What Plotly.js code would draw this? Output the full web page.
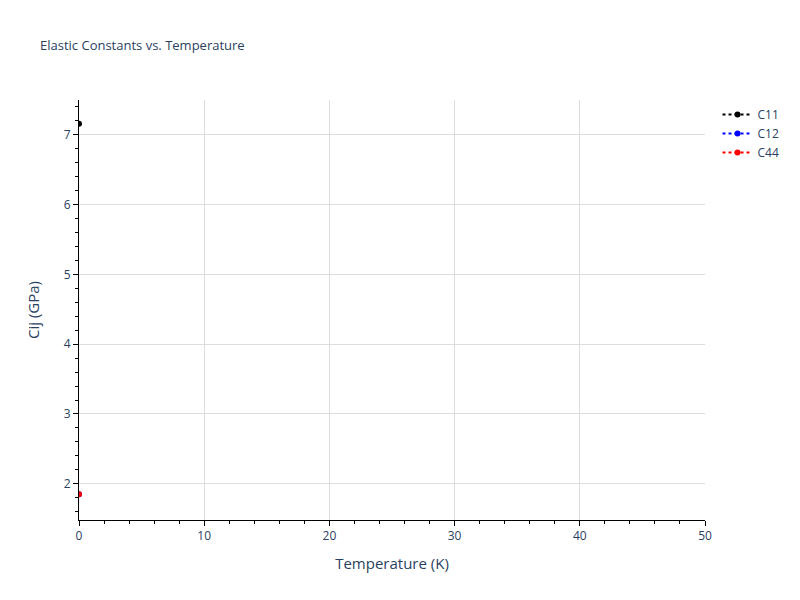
<!DOCTYPE html>
<html>
<head>
<meta charset="utf-8">
<script src="https://cdn.plot.ly/plotly-3.0.1.min.js"></script>
</head>
<body style="margin:0">
<div id="myDiv" style="width:800px;height:600px"></div>
<script>
let temperature = [0];
let c11 = [7.16];
let c12 = [1.85];
let c44 = [1.85];

function makeTrace(name, values, color){
    return {
        x: temperature,
        y: values,
        name: name,
        type: 'scatter',
        mode: 'lines+markers',
        line: {dash: 'dot', color: color},
        marker: {color: color, size: 6}
    };
}

var data = [
    makeTrace('C11', c11, 'black'),
    makeTrace('C12', c12, 'blue'),
    makeTrace('C44', c44, 'red')
];

var layout = {
    width: 800,
    height: 600,
    font: {color: '#2a3f5f'},
    title: {text: 'Elastic Constants vs. Temperature', font: {size: 13}, x: 0.05},
    paper_bgcolor: 'white',
    plot_bgcolor: 'white',
    margin: {l: 79, r: 95, t: 100, b: 80},
    xaxis: {
        title: {text: 'Temperature (K)', font: {size: 15}, standoff: 15},
        range: [0, 50],
        dtick: 10,
        showline: true,
        linecolor: 'black',
        ticks: 'outside',
        tickcolor: 'black',
        gridcolor: '#dddddd',
        gridwidth: 1,
        zeroline: false,
        minor: {dtick: 2, ticks: 'outside', tickcolor: 'black', showgrid: false}
    },
    yaxis: {
        title: {text: 'Cij (GPa)', font: {size: 15}},
        range: [1.48, 7.5],
        dtick: 1,
        showline: true,
        linecolor: 'black',
        ticks: 'outside',
        tickcolor: 'black',
        gridcolor: '#dddddd',
        zeroline: false,
        minor: {dtick: 0.2, ticks: 'outside', tickcolor: 'black', showgrid: false}
    },
    legend: {x: 1.02, y: 1}
};

Plotly.newPlot('myDiv', data, layout, {displayModeBar: false});
</script>
</body>
</html>
